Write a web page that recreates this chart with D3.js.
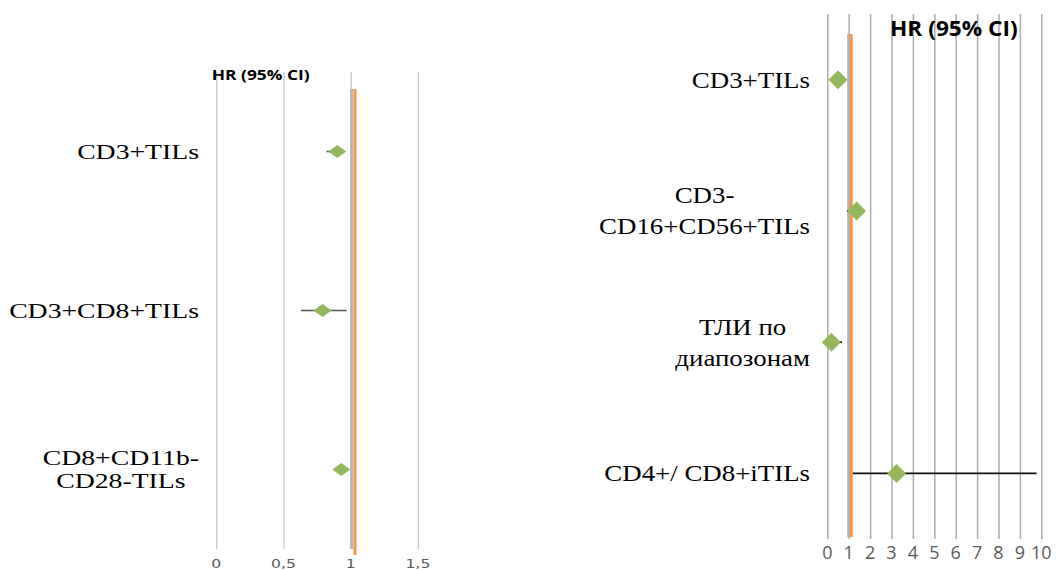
<!DOCTYPE html>
<html>
<head>
<meta charset="utf-8">
<script src="https://cdn.jsdelivr.net/npm/d3@7"></script>
<style>
  html, body { margin: 0; padding: 0; background: #fff; }
  svg { display: block; }
</style>
</head>
<body>
<svg id="chart" width="1056" height="571"></svg>
<script>
// ---------- DATA ----------
const leftCategories = ["CD3+TILs", "CD3+CD8+TILs", "CD8+CD11b-\nCD28-TILs"];
const leftHR    = [0.90, 0.79, 0.93];
const leftLower = [0.82, 0.63, 0.90];
const leftUpper = [0.95, 0.97, 0.97];
const leftTicks = [0, 0.5, 1, 1.5];
const leftTickLabels = ["0", "0,5", "1", "1,5"];
const leftTitle = "HR (95% CI)";

const rightCategories = ["CD3+TILs", "CD3-\nCD16+CD56+TILs", "ТЛИ по\nдиапозонам", "CD4+/ CD8+iTILs"];
const rightHR    = [0.50, 1.37, 0.19, 3.24];
const rightLower = [0.30, 0.92, 0.05, 1.19];
const rightUpper = [0.75, 1.75, 0.69, 9.78];
const rightTicks = [0, 1, 2, 3, 4, 5, 6, 7, 8, 9, 10];
const rightTickLabels = ["0", "1", "2", "3", "4", "5", "6", "7", "8", "9", "10"];
const rightTitle = "HR (95% CI)";

const referenceValue = 1;

// ---------- DRAW ----------
const svg = d3.select("#chart");
const green = "#93B759";

function forest(cfg) {
  const g = svg.append("g");
  const x = d3.scaleLinear().domain(cfg.domain).range(cfg.xRange);
  const y = d3.scaleBand().domain(cfg.cats).range(cfg.yRange);
  const yc = c => y(c) + y.bandwidth() / 2;

  // gridlines via axis
  const grid = d3.axisBottom(x).tickValues(cfg.ticks).tickSize(-(cfg.yRange[1] - cfg.yRange[0])).tickFormat("");
  const gg = g.append("g").attr("transform", `translate(0,${cfg.yRange[1]})`).call(grid);
  gg.select(".domain").remove();
  gg.selectAll(".tick line").attr("stroke", cfg.gridColor).attr("stroke-width", cfg.gridWidth);

  // tick labels
  cfg.ticks.forEach((t, i) => {
    g.append("g")
      .attr("transform", `translate(${x(t)},${cfg.tickY}) scale(${cfg.sx},1)`)
      .append("text")
      .attr("text-anchor", "middle")
      .attr("dy", "0.36em")
      .attr("font-family", cfg.tickFont)
      .attr("font-size", cfg.tickSize)
      .attr("fill", "#595959")
      .text(cfg.tickLabels[i]);
  });

  // reference line (gray shadow + orange)
  g.append("line")
    .attr("x1", x(referenceValue) + cfg.grayOff).attr("x2", x(referenceValue) + cfg.grayOff)
    .attr("y1", cfg.refY[0]).attr("y2", cfg.refY[1])
    .attr("stroke", "#B4B4B4").attr("stroke-width", 3);
  g.append("line")
    .attr("x1", x(referenceValue) + cfg.orangeOff).attr("x2", x(referenceValue) + cfg.orangeOff)
    .attr("y1", cfg.refY[0]).attr("y2", cfg.refY[1] + cfg.orangeExtra)
    .attr("stroke", "#F79646").attr("stroke-width", 3);

  // whiskers
  g.selectAll(".ci").data(cfg.cats).enter().append("line")
    .attr("x1", (c, i) => x(cfg.lower[i]))
    .attr("x2", (c, i) => x(cfg.upper[i]))
    .attr("y1", c => yc(c)).attr("y2", c => yc(c))
    .attr("stroke", cfg.ciColor).attr("stroke-width", 1.6);

  // diamonds
  const hw = cfg.dw / 2, hh = cfg.dh / 2;
  g.selectAll(".pt").data(cfg.cats).enter().append("path")
    .attr("d", (c, i) => {
      const cx = x(cfg.hr[i]), cy = yc(c);
      return `M${cx - hw},${cy}L${cx},${cy - hh}L${cx + hw},${cy}L${cx},${cy + hh}Z`;
    })
    .attr("fill", green);

  // category labels
  cfg.cats.forEach(c => {
    const lines = c.split("\n");
    const lg = g.append("g").attr("transform", `translate(${cfg.labelRight},${yc(c)}) scale(${cfg.labelSx},1)`);
    const texts = lines.map((ln, k) => lg.append("text")
      .attr("font-family", "'Liberation Serif', 'Times New Roman', serif")
      .attr("font-size", cfg.labelSize)
      .attr("fill", "#000")
      .attr("text-anchor", "middle")
      .attr("y", (k - (lines.length - 1) / 2) * cfg.lineH)
      .attr("dy", "0.33em")
      .text(ln));
    const maxW = d3.max(texts, t => t.node().getComputedTextLength());
    texts.forEach(t => t.attr("x", -maxW / 2));
  });

  // title
  g.append("g")
    .attr("transform", `translate(${cfg.titleX},${cfg.titleY}) scale(${cfg.titleSx},1)`)
    .append("text")
    .attr("font-family", "'Open Sans', 'Liberation Sans', sans-serif")
    .attr("font-weight", "bold")
    .attr("font-size", cfg.titleSize)
    .attr("dy", "0.36em")
    .attr("fill", "#000")
    .text(cfg.title);
}

forest({
  cats: leftCategories, hr: leftHR, lower: leftLower, upper: leftUpper,
  ticks: leftTicks, tickLabels: leftTickLabels, title: leftTitle,
  domain: [0, 1.5], xRange: [216.3, 417.9], yRange: [72, 549],
  gridColor: "#C4C4C4", gridWidth: 1.2,
  tickY: 563, tickFont: "'DejaVu Sans', sans-serif", tickSize: 12.5,
  sx: 1.25, refY: [89, 549], orangeExtra: 6, grayOff: 1, orangeOff: 4.3,
  ciColor: "#555", dw: 18, dh: 13,
  labelRight: 199, labelSize: 21.5, labelSx: 1.29, lineH: 23.5,
  titleX: 211.7, titleY: 74.5, titleSize: 14.5, titleSx: 1.2
});

forest({
  cats: rightCategories, hr: rightHR, lower: rightLower, upper: rightUpper,
  ticks: rightTicks, tickLabels: rightTickLabels, title: rightTitle,
  domain: [0, 10], xRange: [827.3, 1041.3], yRange: [14, 539],
  gridColor: "#ABABAB", gridWidth: 1.5,
  tickY: 552.5, tickFont: "'Open Sans', sans-serif", tickSize: 18,
  sx: 1, refY: [34, 537], orangeExtra: 0, grayOff: 0, orangeOff: 2.5,
  ciColor: "#111", dw: 19, dh: 19,
  labelRight: 810, labelSize: 24, labelSx: 1.12, lineH: 31,
  titleX: 890, titleY: 28, titleSize: 21, titleSx: 1.08
});
</script>
</body>
</html>
